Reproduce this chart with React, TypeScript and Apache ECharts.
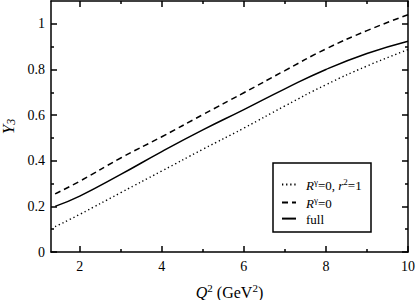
import React, { useEffect, useRef } from "react";
import * as echarts from "echarts";

const q2 = [1.4, 2, 3, 4, 5, 6, 7, 8, 9, 10];
const dottedY = [0.111, 0.165, 0.26, 0.355, 0.45, 0.543, 0.64, 0.733, 0.815, 0.887];
const dashedY = [0.255, 0.31, 0.412, 0.505, 0.602, 0.698, 0.795, 0.89, 0.97, 1.04];
const fullY = [0.2, 0.245, 0.34, 0.44, 0.535, 0.624, 0.715, 0.8, 0.87, 0.924];

const xMajor = [2, 4, 6, 8, 10];
const xMinor = [3, 5, 7, 9];
const yMajor = [0, 0.2, 0.4, 0.6, 0.8, 1];
const yMinor = [0.1, 0.3, 0.5, 0.7, 0.9];

const names = ["dotted", "dashed", "full"];

const FONT = "'Liberation Serif', 'Times New Roman', serif";

export default function App() {
  const ref = useRef<HTMLDivElement>(null);
  useEffect(() => {
    if (!ref.current) return;
    const chart = echarts.init(ref.current, null, { renderer: "svg" });
    const lineCol = "#000";
    const mkX = (pos: string, vals: number[], len: number, showLine: boolean, labels: boolean, extra: any = {}) => ({
      type: "value",
      min: 1.3,
      max: 10,
      position: pos,
      axisLine: { show: showLine, onZero: false, lineStyle: { color: lineCol, width: 1.5 } },
      axisTick: { show: true, inside: true, length: len, customValues: vals, lineStyle: { color: lineCol, width: 1.5 } },
      axisLabel: labels
        ? { show: true, customValues: vals, fontFamily: FONT, fontSize: 14, color: "#000", margin: 7 }
        : { show: false },
      splitLine: { show: false },
      ...extra,
    });
    const mkY = (pos: string, vals: number[], len: number, showLine: boolean, labels: boolean, extra: any = {}) => ({
      type: "value",
      min: 0,
      max: 1.1,
      position: pos,
      axisLine: { show: showLine, onZero: false, lineStyle: { color: lineCol, width: 1.5 } },
      axisTick: { show: true, inside: true, length: len, customValues: vals, lineStyle: { color: lineCol, width: 1.5 } },
      axisLabel: labels
        ? { show: true, customValues: vals, fontFamily: FONT, fontSize: 14, color: "#000", margin: 6 }
        : { show: false },
      splitLine: { show: false },
      ...extra,
    });
    const styles: any = {
      dotted: { type: [1.3, 2.8], width: 1.4 },
      dashed: { type: [6, 4], width: 1.5 },
      full: { type: "solid", width: 1.5 },
    };
    const ys: any = { dotted: dottedY, dashed: dashedY, full: fullY };
    chart.setOption({
      animation: false,
      textStyle: { fontFamily: FONT, color: "#000" },
      grid: { left: 51, top: 1, right: 9, bottom: 48, containLabel: false, outerBoundsMode: "none" },
      xAxis: [
        mkX("bottom", xMajor, 6, true, true, {
          name: "{i|Q}{s|2}{n| (GeV}{s|2}{n|)}",
          nameLocation: "middle",
          nameGap: 30,
          nameTextStyle: {
            rich: {
              i: { fontFamily: FONT, fontStyle: "italic", fontSize: 16, color: "#000", lineHeight: 18, verticalAlign: "bottom" },
              n: { fontFamily: FONT, fontSize: 16, color: "#000", lineHeight: 18, verticalAlign: "bottom" },
              s: { fontFamily: FONT, fontSize: 11, color: "#000", lineHeight: 12, verticalAlign: "top" },
            },
          },
        }),
        mkX("bottom", xMinor, 3, false, false),
        mkX("top", xMajor, 6, true, false),
        mkX("top", xMinor, 3, false, false),
      ],
      yAxis: [
        mkY("left", yMajor, 6, true, true, {
          name: "{i|Y}{s|3}",
          nameLocation: "middle",
          nameRotate: 90,
          nameGap: 29,
          nameTextStyle: {
            rich: {
              i: { fontFamily: FONT, fontStyle: "italic", fontSize: 17, color: "#000", lineHeight: 17, verticalAlign: "top" },
              s: { fontFamily: FONT, fontStyle: "italic", fontSize: 12, color: "#000", lineHeight: 11, verticalAlign: "bottom" },
            },
          },
        }),
        mkY("left", yMinor, 3, false, false),
        mkY("right", yMajor, 6, true, false),
        mkY("right", yMinor, 3, false, false),
      ],
      legend: {
        orient: "vertical",
        left: 281,
        top: 177,
        padding: 0,
        z: 10,
        itemWidth: 14,
        itemHeight: 14,
        itemGap: 3,
        data: names,
        itemStyle: { color: "rgba(0,0,0,0)", borderColor: "rgba(0,0,0,0)", borderWidth: 0, opacity: 0 },
        formatter: (n: string) => {
          if (n === "dotted") return "{i|R}{s|γ}{n|=0, }{i|r}{s|2}{n|=1}";
          if (n === "dashed") return "{i|R}{s|γ}{n|=0}";
          return "{n|full}";
        },
        textStyle: {
          padding: [0, 0, 0, 5],
          rich: {
            i: { fontFamily: FONT, fontStyle: "italic", fontSize: 13, color: "#000", lineHeight: 15, verticalAlign: "bottom" },
            n: { fontFamily: FONT, fontSize: 13, color: "#000", lineHeight: 15, verticalAlign: "bottom" },
            s: { fontFamily: FONT, fontSize: 9, color: "#000", lineHeight: 10, verticalAlign: "top" },
          },
        },
      },
      graphic: [
        {
          type: "rect",
          z: 1,
          shape: { x: 273, y: 163, width: 98, height: 69 },
          style: { fill: "none", stroke: "#000", lineWidth: 1.5 },
        },
      ],
      series: names.map((n) => ({
        name: n,
        type: "line",
        smooth: true,
        symbol: "none",
        xAxisIndex: 0,
        yAxisIndex: 0,
        lineStyle: { color: "#000", ...styles[n] },
        itemStyle: { color: "#000" },
        data: q2.map((x, i) => [x, ys[n][i]]),
        z: 3,
      })),
    });
    return () => chart.dispose();
  }, []);
  return <div ref={ref} style={{ width: 417, height: 300, position: "absolute", left: 0, top: 0 }} />;
}
